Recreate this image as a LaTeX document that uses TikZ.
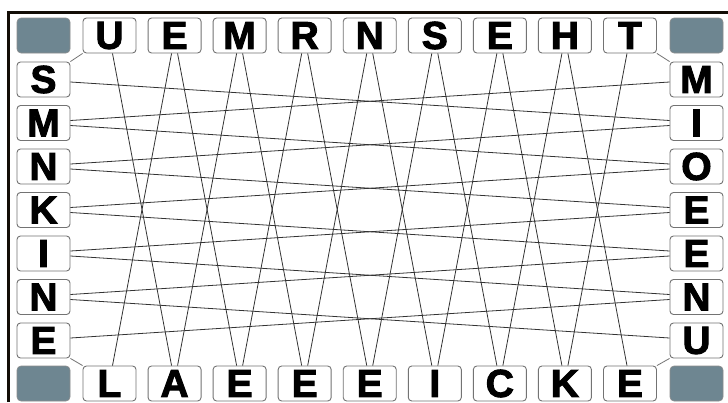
\documentclass[tikz,border=0pt]{standalone}
\usepackage{fontspec}
\setmainfont{Liberation Sans}
\newfontfamily\heavyfont[FakeBold=2.5]{Liberation Sans}
\begin{document}
\begin{tikzpicture}[x=1pt,y=-1pt,
  letterbox/.style={draw=black!55,line width=0.9pt,rounded corners=3.5pt,fill=white,
    minimum width=53pt,minimum height=35pt,inner sep=0pt,
    font=\heavyfont\bfseries\fontsize{39}{39}\selectfont},
  cornerbox/.style={draw=black!45,line width=0.6pt,rounded corners=4pt,fill=cornerc,
    minimum width=53pt,minimum height=35pt,inner sep=0pt},
  link/.style={draw=black!80,line width=0.8pt},
  tie/.style={draw=black!55,line width=0.8pt}]
\definecolor{cornerc}{HTML}{6E8691}
\useasboundingbox (0,0) rectangle (728,402);
\fill[white] (0,0) rectangle (728,402);
% frame
\draw[line width=3pt,draw=black!90!brown] (8.5,402) -- (8.5,12.5) -- (728,12.5);
% corners
\node[cornerbox] (c1) at (43.5,35.5) {};
\node[cornerbox] (c2) at (696.5,35.5) {};
\node[cornerbox] (c3) at (43.5,383.5) {};
\node[cornerbox] (c4) at (696.5,383.5) {};
% top row
\foreach \t [count=\i] in {U,E,M,R,N,S,E,H,T}
  \node[letterbox] (t\i) at ({109.5+65.06*(\i-1)},35.5) {\t};
% bottom row
\foreach \t [count=\i] in {L,A,E,E,E,I,C,K,E}
  \node[letterbox] (b\i) at ({109.5+65.06*(\i-1)},383.5) {\t};
% left column
\foreach \t [count=\j] in {S,M,N,K,I,N,E}
  \node[letterbox] (l\j) at (43.5,{79.5+43.5*(\j-1)}) {\t};
% right column
\foreach \t [count=\j] in {M,I,O,E,E,N,U}
  \node[letterbox] (r\j) at (696.5,{79.5+43.5*(\j-1)}) {\t};
% vertical links
\foreach \i [evaluate=\i as \n using int(\i+1)] in {1,...,8}{
  \draw[link] ([xshift=3pt]t\i.south) -- ([xshift=-3pt]b\n.north);
  \draw[link] ([xshift=-3pt]t\n.south) -- ([xshift=3pt]b\i.north);
}
% horizontal links
\foreach \j [evaluate=\j as \n using int(\j+1)] in {1,...,6}{
  \draw[link] ([yshift=-2.5pt]l\j.east) -- ([yshift=2.5pt]r\n.west);
  \draw[link] ([yshift=2.5pt]l\n.east) -- ([yshift=-2.5pt]r\j.west);
}
% corner ties
\draw[tie] (t1.south west) -- (l1.north east);
\draw[tie] (t9.south east) -- (r1.north west);
\draw[tie] (b1.north west) -- (l7.south east);
\draw[tie] (b9.north east) -- (r7.south west);
\end{tikzpicture}
\end{document}
